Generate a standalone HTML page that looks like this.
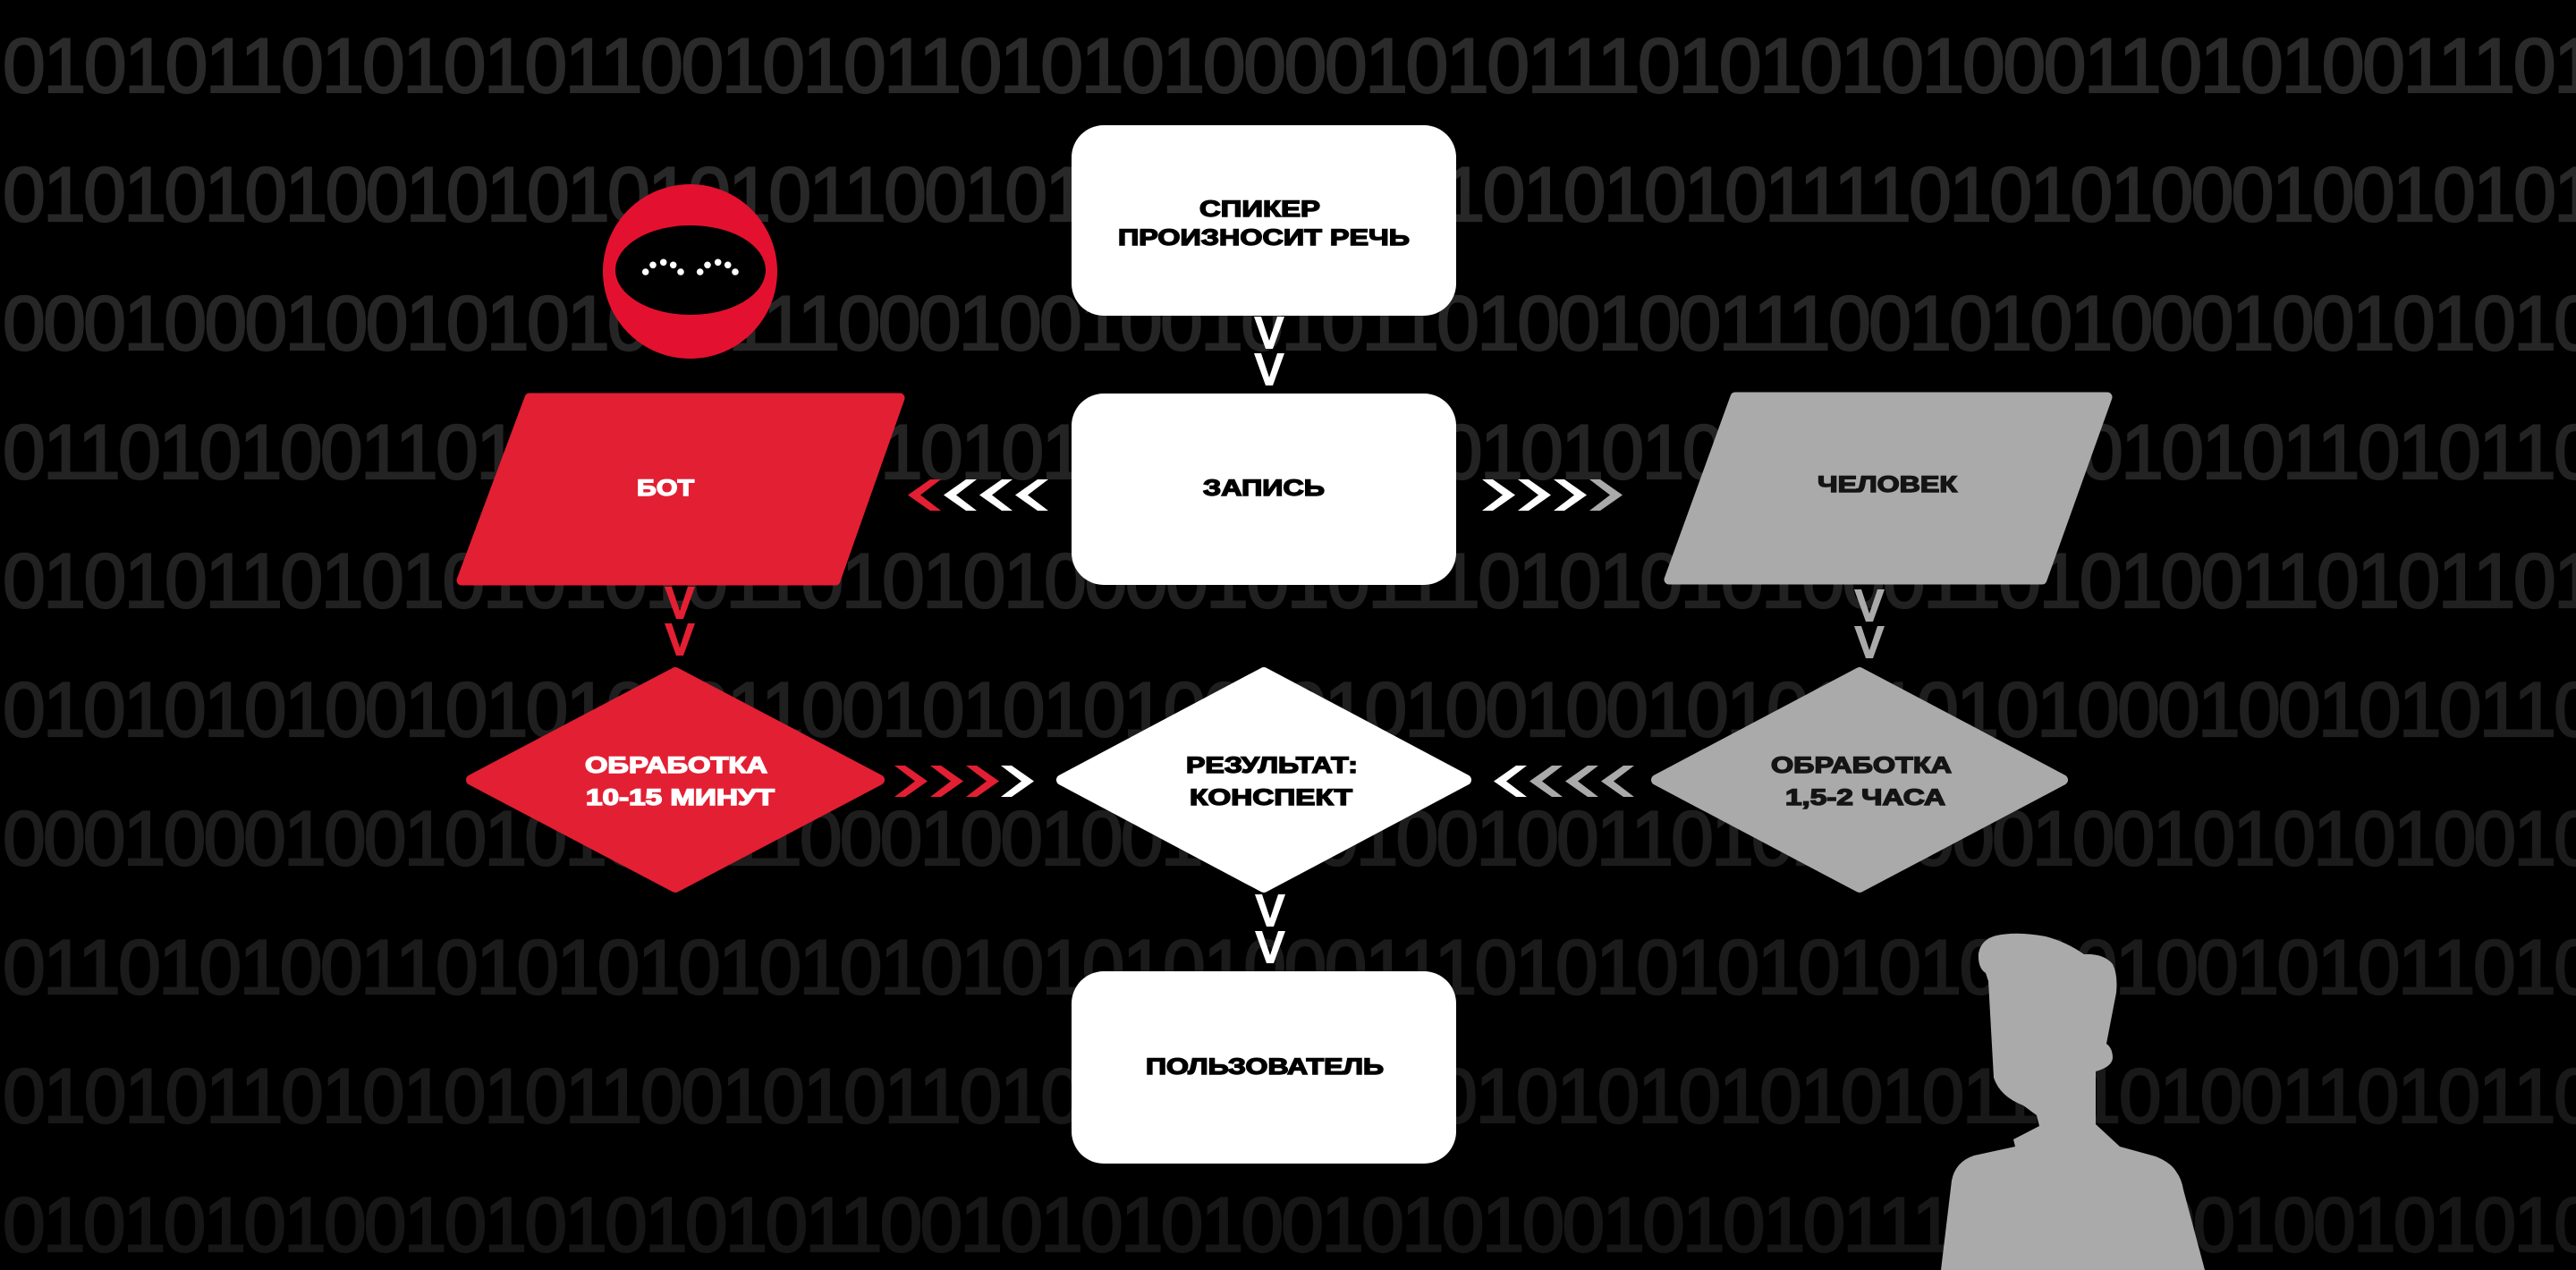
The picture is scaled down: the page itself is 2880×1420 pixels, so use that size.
<!DOCTYPE html>
<html>
<head>
<meta charset="utf-8">
<style>
html,body{margin:0;padding:0;background:#000;}
body{width:2880px;height:1420px;overflow:hidden;}
svg{display:block;}
.bin{font-family:"Liberation Sans",sans-serif;font-size:86px;fill:url(#bg);stroke:url(#bg);stroke-width:2.2px;}
.lbl{font-family:"Liberation Sans",sans-serif;font-weight:bold;font-size:25px;stroke-width:1.4px;}
.dk{fill:#000;stroke:#000;}
.wt{fill:#fff;stroke:#fff;}
.gt{fill:#141414;stroke:#141414;}
</style>
</head>
<body>
<svg width="2880" height="1420" viewBox="0 0 2880 1420" xmlns="http://www.w3.org/2000/svg">
<defs>
<linearGradient id="bg" gradientUnits="userSpaceOnUse" x1="0" y1="40" x2="0" y2="1400">
<stop offset="0" stop-color="#2a2a2a"/>
<stop offset="1" stop-color="#161616"/>
</linearGradient>
</defs>
<rect width="2880" height="1420" fill="#000"/>

<!-- binary background -->
<g>
<text class="bin" x="3" y="103" textLength="2900" lengthAdjust="spacing">01010110101010110010101101010100001010111010101010001101010011101</text>
<text class="bin" x="3" y="247" textLength="2900" lengthAdjust="spacing">01010101001010101010110010101011010010101010111101010100010010101</text>
<text class="bin" x="3" y="391" textLength="2900" lengthAdjust="spacing">00010001001010101011100010010010101101001001110010101000100101010</text>
<text class="bin" x="3" y="535" textLength="2900" lengthAdjust="spacing">01101010011010101010101010110101010101010101010110100101011010110</text>
<text class="bin" x="3" y="679" textLength="2900" lengthAdjust="spacing">01010110101010101011010101000010101110101010100011010100110101101</text>
<text class="bin" x="3" y="823" textLength="2900" lengthAdjust="spacing">01010101001010101011001010101001010100100101011101010001001010110</text>
<text class="bin" x="3" y="967" textLength="2900" lengthAdjust="spacing">00010001001010101011000100100101101001001101010100010010101010010</text>
<text class="bin" x="3" y="1111" textLength="2900" lengthAdjust="spacing">01101010011010101010101010101010001110101010101010110100101011010</text>
<text class="bin" x="3" y="1255" textLength="2900" lengthAdjust="spacing">01010110101010110010101101010101011101010101010101101010011010110</text>
<text class="bin" x="3" y="1399" textLength="2900" lengthAdjust="spacing">01010101001010101010110010101010010101001010101110101000100101010</text>
</g>

<!-- robot icon -->
<circle cx="771.5" cy="303.5" r="97.5" fill="#e3112f"/>
<ellipse cx="772" cy="302" rx="84" ry="50" fill="#000"/>
<g fill="#fff">
<circle cx="721.7" cy="304" r="3.8"/><circle cx="730" cy="296.3" r="3.8"/><circle cx="741.7" cy="293.3" r="3.8"/><circle cx="752.7" cy="296.3" r="3.8"/><circle cx="761" cy="304" r="3.8"/>
<circle cx="782.7" cy="304" r="3.8"/><circle cx="791" cy="296.3" r="3.8"/><circle cx="802.7" cy="293.3" r="3.8"/><circle cx="813.7" cy="296.3" r="3.8"/><circle cx="822" cy="304" r="3.8"/>
</g>

<!-- boxes -->
<rect x="1198" y="140" width="430" height="213" rx="36" ry="36" fill="#fff"/>
<rect x="1198" y="440" width="430" height="214" rx="36" ry="36" fill="#fff"/>
<rect x="1198" y="1086" width="430" height="215" rx="36" ry="36" fill="#fff"/>

<!-- parallelograms -->
<polygon points="592,445 1006,445 934,649 516,649" fill="#e31f33" stroke="#e31f33" stroke-width="11" stroke-linejoin="round"/>
<polygon points="1940,444 2356,444 2283,648 1866,648" fill="#aaaaaa" stroke="#aaaaaa" stroke-width="11" stroke-linejoin="round"/>

<!-- diamonds -->
<polygon points="755,752 983,872 755,992 527,872" fill="#e31f33" stroke="#e31f33" stroke-width="12" stroke-linejoin="round"/>
<polygon points="1413,752 1639,872 1413,992 1187,872" fill="#fff" stroke="#fff" stroke-width="12" stroke-linejoin="round"/>
<polygon points="2079,752 2306,872 2079,992 1852,872" fill="#aaaaaa" stroke="#aaaaaa" stroke-width="12" stroke-linejoin="round"/>

<!-- person -->
<path d="M2170 1420 L2182 1320 Q2186 1299 2207 1292 L2253 1282 L2251 1274 L2280 1259 L2277 1247 L2262 1236 Q2236 1226 2229 1205 L2223 1097 L2220 1088 Q2211 1082 2212 1066 Q2215 1050 2232 1046 Q2255 1041 2287 1047 Q2310 1053 2330 1067 Q2352 1066 2362 1078 Q2368 1090 2366 1110 L2355 1167 Q2362 1172 2362 1183 Q2361 1193 2343 1198 L2343 1257 L2370 1282 L2410 1293 Q2427 1300 2433 1310 Q2439 1318 2441 1330 L2465 1420 Z" fill="#aaaaaa"/>

<!-- vertical V connectors -->
<g fill="#fff">
<polygon points="1402,354 1410,354 1419,381 1428,354 1436,354 1423,390 1415,390"/>
<polygon points="1402,395 1410,395 1419,422 1428,395 1436,395 1423,431 1415,431"/>
<polygon points="1403,1000 1411,1000 1420,1027 1429,1000 1437,1000 1424,1036 1416,1036"/>
<polygon points="1403,1041 1411,1041 1420,1068 1429,1041 1437,1041 1424,1077 1416,1077"/>
</g>
<g fill="#e31f33">
<polygon points="743,656 751,656 760,683 769,656 777,656 764,692 756,692"/>
<polygon points="743,697 751,697 760,724 769,697 777,697 764,733 756,733"/>
</g>
<g fill="#aaaaaa">
<polygon points="2073,659 2081,659 2090,686 2099,659 2107,659 2094,695 2086,695"/>
<polygon points="2073,700 2081,700 2090,727 2099,700 2107,700 2094,736 2086,736"/>
</g>

<!-- horizontal chevrons: left of ЗАПИСЬ -->
<polygon fill="#e31f33" points="1052,536 1040,536 1015,553.5 1040,571 1052,571 1029,553.5"/>
<polygon fill="#fff" points="1092,536 1080,536 1055,553.5 1080,571 1092,571 1069,553.5"/>
<polygon fill="#fff" points="1132,536 1120,536 1095,553.5 1120,571 1132,571 1109,553.5"/>
<polygon fill="#fff" points="1172,536 1160,536 1135,553.5 1160,571 1172,571 1149,553.5"/>

<!-- right of ЗАПИСЬ -->
<polygon fill="#fff" points="1657,536 1669,536 1694,553.5 1669,571 1657,571 1680,553.5"/>
<polygon fill="#fff" points="1697,536 1709,536 1734,553.5 1709,571 1697,571 1720,553.5"/>
<polygon fill="#fff" points="1737,536 1749,536 1774,553.5 1749,571 1737,571 1760,553.5"/>
<polygon fill="#aaaaaa" points="1777,536 1789,536 1814,553.5 1789,571 1777,571 1800,553.5"/>

<!-- red diamond to result -->
<polygon fill="#e31f33" points="1000,856 1012,856 1037,873.5 1012,891 1000,891 1023,873.5"/>
<polygon fill="#e31f33" points="1040,856 1052,856 1077,873.5 1052,891 1040,891 1063,873.5"/>
<polygon fill="#e31f33" points="1080,856 1092,856 1117,873.5 1092,891 1080,891 1103,873.5"/>
<polygon fill="#fff" points="1119,856 1131,856 1156,873.5 1131,891 1119,891 1142,873.5"/>

<!-- gray diamond to result -->
<polygon fill="#fff" points="1707,856 1695,856 1670,873.5 1695,891 1707,891 1684,873.5"/>
<polygon fill="#aaaaaa" points="1747,856 1735,856 1710,873.5 1735,891 1747,891 1724,873.5"/>
<polygon fill="#aaaaaa" points="1787,856 1775,856 1750,873.5 1775,891 1787,891 1764,873.5"/>
<polygon fill="#aaaaaa" points="1827,856 1815,856 1790,873.5 1815,891 1827,891 1804,873.5"/>

<!-- labels -->
<text class="lbl dk" x="1341" y="242" textLength="135" lengthAdjust="spacingAndGlyphs">СПИКЕР</text>
<text class="lbl dk" x="1250" y="274" textLength="326" lengthAdjust="spacingAndGlyphs">ПРОИЗНОСИТ РЕЧЬ</text>
<text class="lbl dk" x="1345" y="554" textLength="136" lengthAdjust="spacingAndGlyphs">ЗАПИСЬ</text>
<text class="lbl wt" x="712" y="554" textLength="64" lengthAdjust="spacingAndGlyphs">БОТ</text>
<text class="lbl gt" x="2032" y="550" textLength="156" lengthAdjust="spacingAndGlyphs">ЧЕЛОВЕК</text>
<text class="lbl wt" x="654" y="864" textLength="204" lengthAdjust="spacingAndGlyphs">ОБРАБОТКА</text>
<text class="lbl wt" x="655" y="900" textLength="211" lengthAdjust="spacingAndGlyphs">10-15 МИНУТ</text>
<text class="lbl dk" x="1326" y="864" textLength="192" lengthAdjust="spacingAndGlyphs">РЕЗУЛЬТАТ:</text>
<text class="lbl dk" x="1330" y="900" textLength="182" lengthAdjust="spacingAndGlyphs">КОНСПЕКТ</text>
<text class="lbl gt" x="1980" y="864" textLength="202" lengthAdjust="spacingAndGlyphs">ОБРАБОТКА</text>
<text class="lbl gt" x="1996" y="900" textLength="179" lengthAdjust="spacingAndGlyphs">1,5-2 ЧАСА</text>
<text class="lbl dk" x="1281" y="1201" textLength="266" lengthAdjust="spacingAndGlyphs">ПОЛЬЗОВАТЕЛЬ</text>
</svg>
</body>
</html>
